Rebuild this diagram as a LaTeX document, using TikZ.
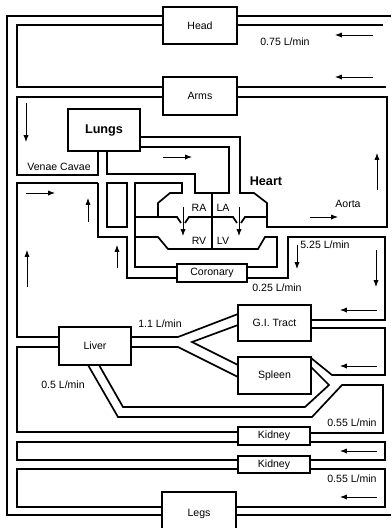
\documentclass[tikz,border=0pt]{standalone}
\usepackage{fontspec}
\setmainfont{Liberation Sans}
\usetikzlibrary{arrows.meta}
\tikzset{
    organ/.style={rectangle, draw=black, line width=1.6pt, fill=white,
        inner sep=0pt, font=\fontsize{7.5}{8}\selectfont},
    vessel/.style={line width=1.2pt, line join=miter},
    flow/.style={-{Latex[length=1.7mm,width=1.3mm]}, line width=0.7pt},
    rate/.style={inner sep=0pt, font=\fontsize{7.5}{8}\selectfont},
    title/.style={inner sep=0pt, font=\fontsize{9}{10}\selectfont\bfseries}
}

\begin{document}
\begin{tikzpicture}[x=0.025cm, y=-0.025cm]
    \useasboundingbox (0,0) rectangle (391,528);
    % outer loop and head
    \draw[vessel] (391,16) -- (237,16);
    \draw[vessel] (163,16) -- (7,16) -- (7,515) -- (162,515);
    \draw[vessel] (236,515) -- (391,515);
    \draw[vessel] (163,25) -- (17,25) -- (17,87) -- (163,87);
    \draw[vessel] (237,25) -- (383,25);
    \draw[vessel] (237,87) -- (386,87);
    % arms, lungs and aorta
    \draw[vessel] (163,97) -- (17,97) -- (17,175) -- (98,175) -- (98,151);
    \draw[vessel] (237,97) -- (387,97) -- (387,227) -- (267,227) -- (267,203)
        -- (254,193) -- (240,193) -- (240,137) -- (140,137);
    \draw[vessel] (140,147) -- (229,147) -- (229,193) -- (195,193) -- (195,174)
        -- (107,174) -- (107,151);
    % heart
    \draw[vessel] (98,183) -- (17,183) -- (17,337) -- (59,337);
    \draw[vessel] (98,183) -- (98,237) -- (127,237) -- (127,278) -- (177,278);
    \draw[vessel] (107,183) rectangle (127,227);
    \draw[vessel] (158,217) -- (158,203) -- (170,193) -- (182,193) -- (182,183)
        -- (135,183) -- (135,267) -- (177,267);
    \draw[vessel] (135,217) -- (177,217) -- (181,223);
    \draw[vessel] (185,223) -- (189,217) -- (233,217) -- (237,223);
    \draw[vessel] (241,223) -- (245,217) -- (267,217);
    \draw[vessel] (135,237) -- (158,237) -- (168,249) -- (258,249) -- (265,237)
        -- (277,237) -- (277,267) -- (247,267);
    \draw[vessel] (212,193) -- (212,249);
    \draw[vessel] (247,278) -- (288,278) -- (288,237) -- (385,237) -- (385,320)
        -- (311,320);
    % liver, gut and spleen
    \draw[vessel] (311,328) -- (385,328) -- (385,375) -- (332,375) -- (311,358);
    \draw[vessel] (311,367) -- (329,385) -- (305,407) -- (123,407) -- (99,365);
    \draw[vessel] (88,365) -- (118,417) -- (312,417) -- (342,385) -- (383,385)
        -- (383,433) -- (310,433);
    \draw[vessel] (59,347) -- (17,347) -- (17,432) -- (238,432);
    \draw[vessel] (131,337) -- (178,337) -- (238,314);
    \draw[vessel] (238,325) -- (192,342) -- (238,365);
    \draw[vessel] (131,347) -- (178,347) -- (238,377);
    % kidneys and legs
    \draw[vessel] (238,442) -- (17,442) -- (17,460) -- (238,460);
    \draw[vessel] (310,442) -- (385,442) -- (385,460) -- (310,460);
    \draw[vessel] (238,469) -- (17,469) -- (17,507) -- (162,507);
    \draw[vessel] (310,469) -- (385,469) -- (385,507) -- (236,507);
    % flow arrows
    \draw[flow] (373,35) -- (335,35);
    \draw[flow] (373,77) -- (335,77);
    \draw[flow] (26,103) -- (26,142);
    \draw[flow] (163,157) -- (192,157);
    \draw[flow] (377,190) -- (377,153);
    \draw[flow] (310,217) -- (338,217);
    \draw[flow] (183,207) -- (183,236);
    \draw[flow] (239,207) -- (239,236);
    \draw[flow] (26,193) -- (55,193);
    \draw[flow] (27,287) -- (27,250);
    \draw[flow] (88,222) -- (88,198);
    \draw[flow] (117,268) -- (117,245);
    \draw[flow] (297,245) -- (297,269);
    \draw[flow] (376,250) -- (376,287);
    \draw[flow] (377,310) -- (340,310);
    \draw[flow] (377,366) -- (340,366);
    \draw[flow] (377,451) -- (340,451);
    \draw[flow] (377,497) -- (340,497);
    % organs
    \node[organ, minimum width=1.85cm, minimum height=0.925cm] (head) at (200,25.5) {Head};
    \node[organ, minimum width=1.85cm, minimum height=0.95cm] (arms) at (200,96) {Arms};
    \node[organ, minimum width=1.8cm, minimum height=1.05cm, font=\fontsize{9}{10}\selectfont\bfseries] (lungs) at (104,130) {Lungs};
    \node[organ, minimum width=1.75cm, minimum height=0.45cm] (coronary) at (212,273) {Coronary};
    \node[organ, minimum width=1.825cm, minimum height=0.9cm] (gitract) at (274.5,323) {G.I. Tract};
    \node[organ, minimum width=1.8cm, minimum height=0.95cm] (liver) at (95,346) {Liver};
    \node[organ, minimum width=1.825cm, minimum height=0.925cm] (spleen) at (274.5,375.5) {Spleen};
    \node[organ, minimum width=1.8cm, minimum height=0.44cm] (kidneyA) at (274,436) {Kidney};
    \node[organ, minimum width=1.8cm, minimum height=0.44cm] (kidneyB) at (274,464.5) {Kidney};
    \node[organ, minimum width=1.85cm, minimum height=1.075cm] (legs) at (199,513.5) {Legs};
    % labels
    \node[rate] (headrate) at (285,42) {0.75 L/min};
    \node[rate] (cavae) at (59,167) {Venae Cavae};
    \node[title] (heart) at (266,181) {Heart};
    \node[rate] (aorta) at (348,204) {Aorta};
    \node[rate] (ra) at (199,208) {RA};
    \node[rate] (la) at (223,208) {LA};
    \node[rate] (rv) at (199,241) {RV};
    \node[rate] (lv) at (223,241) {LV};
    \node[rate] (cardout) at (325,245) {5.25 L/min};
    \node[rate] (corrate) at (277,288) {0.25 L/min};
    \node[rate] (portal) at (160,324) {1.1 L/min};
    \node[rate] (hepatic) at (63,385) {0.5 L/min};
    \node[rate] (renalA) at (352,423) {0.55 L/min};
    \node[rate] (renalB) at (352,479) {0.55 L/min};
\end{tikzpicture}
\end{document}
